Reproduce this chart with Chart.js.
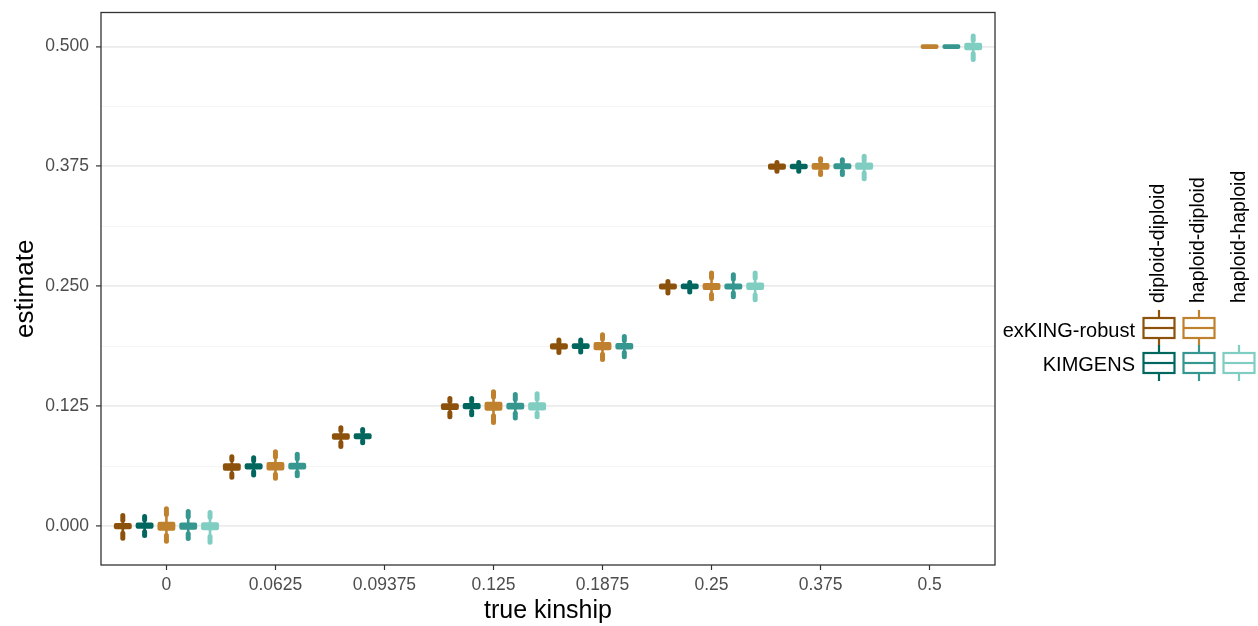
<!DOCTYPE html>
<html>
<head>
<meta charset="utf-8">
<script src="https://cdn.jsdelivr.net/npm/chart.js@4/dist/chart.umd.min.js"></script>
<style>
  body { margin: 0; background: #fff; }
  #wrap { position: relative; width: 1258px; height: 626px; font-family: 'Liberation Sans', Arial, sans-serif; }
  .colhead { position: absolute; transform: rotate(-90deg); transform-origin: 0 0; white-space: nowrap; font-size: 19.5px; line-height: 22px; color: #000; }
  .rowlab { position: absolute; right: 123px; font-size: 20px; line-height: 22px; white-space: nowrap; color: #000; }
  .key { position: absolute; }
</style>
</head>
<body>
<div id="wrap">
  <canvas id="kinChart" width="1258" height="626"></canvas>
  <div class="colhead" style="left:1146px; top:303px">diploid-diploid</div>
  <div class="colhead" style="left:1186px; top:303px">haploid-diploid</div>
  <div class="colhead" style="left:1227px; top:303px">haploid-haploid</div>
  <div class="rowlab" style="top:319px">exKING-robust</div>
  <div class="rowlab" style="top:353px">KIMGENS</div>
  <div id="keys"></div>
</div>
<script>
// true kinship categories (x axis)
const categories = ['0', '0.0625', '0.09375', '0.125', '0.1875', '0.25', '0.375', '0.5'];

// y gridlines; labelled ones are multiples of 0.125
const yGrid = [0, 0.0625, 0.125, 0.1875, 0.25, 0.3125, 0.375, 0.4375, 0.5];

// box stats per category: [low outlier, low whisker, q1, median, q3, high whisker, high outlier]
const exkingDipDip = [
  [-0.0128, -0.0075, -0.0035, -0.0005, 0.0032, 0.0060, 0.0110],
  [0.0508, 0.0545, 0.0575, 0.0620, 0.0655, 0.0690, 0.0723],
  [0.0828, 0.0870, 0.0900, 0.0935, 0.0968, 0.0995, 0.1025],
  [0.1140, 0.1180, 0.1210, 0.1245, 0.1280, 0.1300, 0.1330],
  [0.1810, 0.1835, 0.1840, 0.1872, 0.1905, 0.1915, 0.1940],
  [0.2430, 0.2455, 0.2465, 0.2497, 0.2530, 0.2535, 0.2550],
  [0.3700, 0.3710, 0.3715, 0.3748, 0.3780, 0.3785, 0.3790],
  null
];
const kimgensDipDip = [
  [-0.0100, -0.0060, -0.0030, 0.0002, 0.0035, 0.0065, 0.0100],
  [0.0532, 0.0565, 0.0590, 0.0625, 0.0655, 0.0680, 0.0712],
  [0.0867, 0.0890, 0.0905, 0.0937, 0.0968, 0.0985, 0.1007],
  [0.1160, 0.1195, 0.1218, 0.1250, 0.1282, 0.1300, 0.1330],
  [0.1815, 0.1835, 0.1845, 0.1875, 0.1905, 0.1915, 0.1940],
  [0.2440, 0.2460, 0.2470, 0.2500, 0.2528, 0.2535, 0.2540],
  [0.3700, 0.3712, 0.3720, 0.3750, 0.3778, 0.3785, 0.3790],
  null
];
const exkingHapDip = [
  [-0.0160, -0.0100, -0.0050, 0.0000, 0.0045, 0.0120, 0.0180],
  [0.0497, 0.0540, 0.0578, 0.0625, 0.0668, 0.0720, 0.0775],
  null,
  [0.1080, 0.1150, 0.1202, 0.1250, 0.1295, 0.1345, 0.1400],
  [0.1735, 0.1790, 0.1832, 0.1875, 0.1918, 0.1950, 0.1995],
  [0.2369, 0.2415, 0.2462, 0.2500, 0.2535, 0.2590, 0.2637],
  [0.3665, 0.3695, 0.3715, 0.3750, 0.3785, 0.3805, 0.3830],
  [0.4975, 0.4975, 0.4975, 0.5000, 0.5025, 0.5025, 0.5025]
];
const kimgensHapDip = [
  [-0.0130, -0.0080, -0.0040, 0.0000, 0.0035, 0.0095, 0.0150],
  [0.0524, 0.0560, 0.0590, 0.0625, 0.0660, 0.0700, 0.0747],
  null,
  [0.1125, 0.1175, 0.1215, 0.1250, 0.1285, 0.1320, 0.1370],
  [0.1765, 0.1810, 0.1840, 0.1875, 0.1908, 0.1935, 0.1975],
  [0.2390, 0.2430, 0.2467, 0.2500, 0.2530, 0.2575, 0.2620],
  [0.3665, 0.3700, 0.3720, 0.3750, 0.3782, 0.3795, 0.3820],
  [0.4975, 0.4975, 0.4975, 0.5000, 0.5025, 0.5025, 0.5025]
];
const kimgensHapHap = [
  [-0.0170, -0.0110, -0.0045, -0.0005, 0.0040, 0.0090, 0.0140],
  null,
  null,
  [0.1140, 0.1175, 0.1205, 0.1250, 0.1290, 0.1325, 0.1380],
  null,
  [0.2360, 0.2410, 0.2460, 0.2500, 0.2540, 0.2585, 0.2637],
  [0.3620, 0.3680, 0.3715, 0.3750, 0.3790, 0.3810, 0.3855],
  [0.4865, 0.4925, 0.4962, 0.5000, 0.5040, 0.5065, 0.5110]
];

const series = [
  { label: 'exKING-robust diploid-diploid', stats: exkingDipDip, color: '#8c510a' },
  { label: 'KIMGENS diploid-diploid', stats: kimgensDipDip, color: '#01665e' },
  { label: 'exKING-robust haploid-diploid', stats: exkingHapDip, color: '#bf812d' },
  { label: 'KIMGENS haploid-diploid', stats: kimgensHapDip, color: '#35978f' },
  { label: 'KIMGENS haploid-haploid', stats: kimgensHapHap, color: '#80cdc1' }
];

const FONT = "'Liberation Sans', Arial, sans-serif";
const isMajor = v => Math.abs(v / 0.125 - Math.round(v / 0.125)) < 1e-9;

// whiskers + outlier runs, drawn from the stats through the scales
const whiskerPlugin = {
  id: 'whiskers',
  beforeDatasetsDraw(chart) {
    const {ctx, scales: {y}} = chart;
    ctx.save();
    ctx.beginPath();
    ctx.rect(chart.chartArea.left, chart.chartArea.top, chart.chartArea.width, chart.chartArea.height);
    ctx.clip();
    ctx.lineCap = 'round';
    series.forEach((s, d) => {
      const meta = chart.getDatasetMeta(d);
      s.stats.forEach((st, i) => {
        if (!st) return;
        const x = meta.data[i].x;
        const seg = (a, b, w) => {
          if (a === b) return;
          ctx.lineWidth = w;
          ctx.strokeStyle = s.color;
          ctx.beginPath();
          ctx.moveTo(x, y.getPixelForValue(a));
          ctx.lineTo(x, y.getPixelForValue(b));
          ctx.stroke();
        };
        seg(st[1], st[2], 2.6);
        seg(st[4], st[5], 2.6);
        seg(st[0], st[1], 5);
        seg(st[5], st[6], 5);
      });
    });
    ctx.restore();
  },
  afterDraw(chart) {
    const {ctx, chartArea: a} = chart;
    ctx.save();
    ctx.strokeStyle = '#333333';
    ctx.lineWidth = 1.3;
    ctx.strokeRect(a.left, a.top, a.width, a.height);
    ctx.restore();
  }
};

const ctx = document.getElementById('kinChart').getContext('2d');
new Chart(ctx, {
  type: 'bar',
  data: {
    datasets: series.map(s => ({
      label: s.label,
      data: s.stats.map((st, i) => ({ x: i, y: st ? [st[2], st[4]] : null })),
      backgroundColor: s.color,
      borderColor: s.color,
      borderWidth: 0,
      borderRadius: 2,
      borderSkipped: false,
      categoryPercentage: 1.0,
      barPercentage: 0.82,
      grouped: true
    }))
  },
  options: {
    responsive: false,
    animation: false,
    devicePixelRatio: 1,
    layout: { padding: { left: 0, right: 263, top: 12.5, bottom: 0 } },
    plugins: {
      legend: { display: false },
      tooltip: { enabled: false }
    },
    scales: {
      x: {
        type: 'linear',
        offset: false,
        min: -0.6,
        max: 7.6,
        afterBuildTicks: s => { s.ticks = categories.map((c, i) => ({ value: i })); },
        afterFit: s => { s.height = 61; s.paddingLeft = 0; s.paddingRight = 0; },
        ticks: {
          autoSkip: false,
          maxRotation: 0,
          padding: 5,
          color: '#4d4d4d',
          font: { family: FONT, size: 17.5 },
          callback: (v, i) => categories[i]
        },
        grid: { offset: false, drawOnChartArea: false, drawTicks: true, tickLength: 5, tickColor: '#333333', tickWidth: 1.2 },
        border: { display: false },
        title: { display: true, text: 'true kinship', color: '#000', font: { family: FONT, size: 25 }, padding: { top: 0, bottom: 0 } }
      },
      y: {
        min: -0.0407,
        max: 0.5355,
        afterBuildTicks: s => { s.ticks = yGrid.map(v => ({ value: v })); },
        afterFit: s => { s.width = 101; s.paddingTop = 0; s.paddingBottom = 0; },
        ticks: {
          padding: 7,
          color: '#4d4d4d',
          font: { family: FONT, size: 17.5 },
          callback: v => (isMajor(v) ? v.toFixed(3) : '')
        },
        grid: {
          drawTicks: true,
          tickLength: 5,
          color: c => (c.tick && isMajor(c.tick.value) ? '#ebebeb' : '#f4f4f4'),
          lineWidth: c => (c.tick && isMajor(c.tick.value) ? 1.8 : 0.9),
          tickColor: c => (c.tick && isMajor(c.tick.value) ? '#333333' : 'rgba(0,0,0,0)'),
          tickWidth: 1.2
        },
        border: { display: false },
        title: { display: true, text: 'estimate', color: '#000', font: { family: FONT, size: 26 }, padding: { top: 10, bottom: 4 } }
      }
    }
  },
  plugins: [whiskerPlugin]
});

// legend key glyphs (box with median + whiskers)
const keyCells = [
  { col: 0, row: 0, color: '#8c510a' },
  { col: 1, row: 0, color: '#bf812d' },
  { col: 0, row: 1, color: '#01665e' },
  { col: 1, row: 1, color: '#35978f' },
  { col: 2, row: 1, color: '#80cdc1' }
];
const keysEl = document.getElementById('keys');
keyCells.forEach(k => {
  const el = document.createElement('div');
  el.className = 'key';
  el.style.left = (1142 + k.col * 40) + 'px';
  el.style.top = (310 + k.row * 35) + 'px';
  el.innerHTML = `<svg width="34" height="36" viewBox="0 0 34 36">
    <line x1="17" y1="0" x2="17" y2="8" stroke="${k.color}" stroke-width="2.2"/>
    <line x1="17" y1="28" x2="17" y2="36" stroke="${k.color}" stroke-width="2.2"/>
    <rect x="1.5" y="8" width="31" height="20" fill="#fff" stroke="${k.color}" stroke-width="2.2"/>
    <line x1="1.5" y1="18" x2="32.5" y2="18" stroke="${k.color}" stroke-width="2.2"/>
  </svg>`;
  keysEl.appendChild(el);
});
</script>
</body>
</html>
